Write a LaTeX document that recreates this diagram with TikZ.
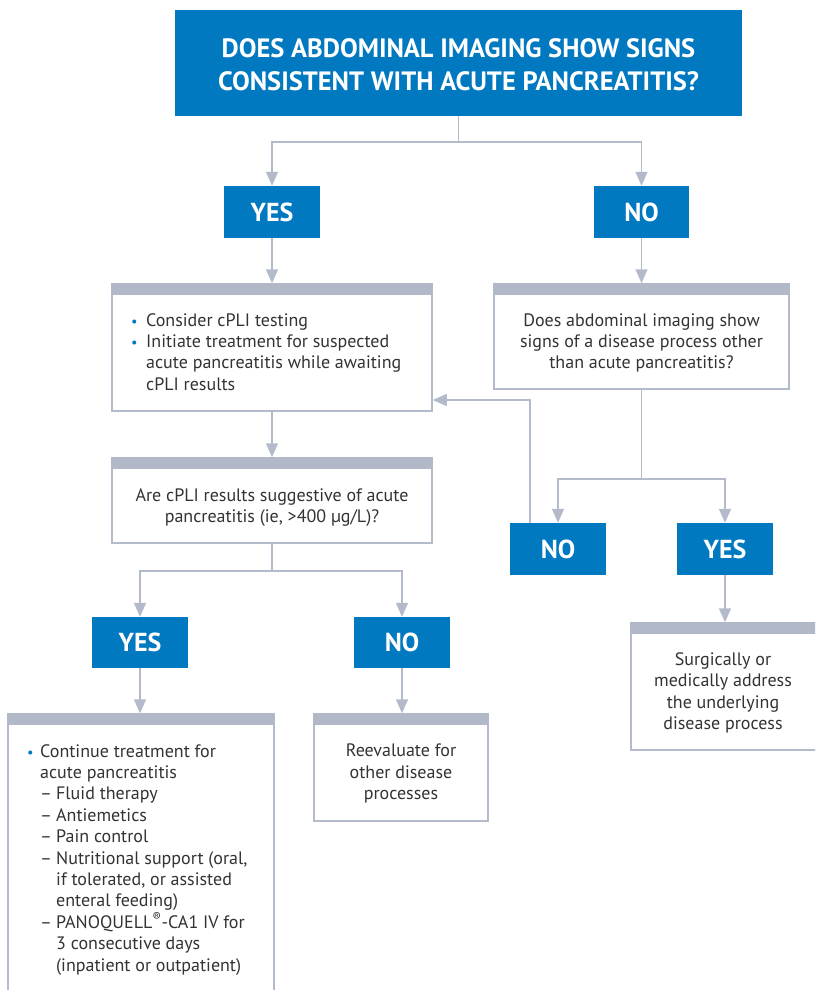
\documentclass[tikz,border=0pt]{standalone}
\usepackage{fontspec}
\setmainfont{PT Sans}
\usetikzlibrary{arrows.meta}
\definecolor{bl}{HTML}{0079C1}
\definecolor{ln}{HTML}{B3BBCB}
\definecolor{hd}{HTML}{B1B8C8}
\definecolor{tx}{HTML}{333333}
\newcommand\bul{\textcolor{bl}{\scalebox{0.8}{•}}}
\begin{document}
\begin{tikzpicture}[x=1pt,y=-1pt,
  bluebox/.style={fill=bl,text=white,font=\bfseries\fontsize{26}{30}\selectfont,inner sep=0,minimum width=96,minimum height=52},
  wbox/.style={draw=ln,line width=1.5pt,fill=white,inner sep=0},
  body/.style={text=tx,font=\fontsize{18}{21.4}\selectfont,inner sep=0},
  conn/.style={draw=ln,line width=1.5pt},
  arr/.style={conn,-{Triangle[width=12pt,length=14pt]}}]
\useasboundingbox (0,0) rectangle (815,990);
\clip (0,0) rectangle (815,990);
% top question
\node[bluebox,minimum width=567,minimum height=106] (top) at (458.5,63) {};
\node[text=white,inner sep=0,align=center,font=\bfseries\fontsize{26.5}{33}\selectfont] (topt) at (458.5,64.5)
  {DOES ABDOMINAL IMAGING SHOW SIGNS\\CONSISTENT WITH ACUTE PANCREATITIS?};
% first answers
\node[bluebox] (yes1) at (272,212) {YES};
\node[bluebox,minimum width=95] (no1) at (641.5,212) {NO};
% boxes
\node[wbox,minimum width=320,minimum height=127] (b1) at (272,347.5) {};
\node[wbox,minimum width=295,minimum height=105] (br) at (641.5,336.5) {};
\node[wbox,minimum width=320,minimum height=85] (b2) at (272,500.5) {};
\node[bluebox] (no2) at (558,549) {NO};
\node[bluebox] (yes2) at (725,549) {YES};
\node[bluebox,minimum height=51] (yes3) at (140,642.5) {YES};
\node[bluebox,minimum height=51] (no3) at (402,642.5) {NO};
\node[wbox,minimum width=266,minimum height=286] (b3) at (141,857) {};
\node[wbox,minimum width=174,minimum height=107] (b4) at (401,767.5) {};
\node[wbox,minimum width=189,minimum height=127] (b5) at (725.5,686.5) {};
% header bands
\foreach \b in {b1,br,b2,b3,b4,b5}{
  \fill[hd] (\b.north west) rectangle ([yshift=-12pt]\b.north east);
}
% texts
\node[body,anchor=north west,align=left] (t1) at (131,313)
  {\makebox[15pt][l]{\bul}Consider cPLI testing\\
   \makebox[15pt][l]{\bul}Initiate treatment for suspected\\
   \hspace*{15pt}acute pancreatitis while awaiting\\
   \hspace*{15pt}cPLI results};
\node[body,align=center] (tr) at (641.5,343)
  {Does abdominal imaging show\\signs of a disease process other\\than acute pancreatitis?};
\node[body,align=center] (t2) at (272,507.5)
  {Are cPLI results suggestive of acute\\pancreatitis (ie, >400 µg/L)?};
\node[body,align=center] (t4) at (401,773.5)
  {Reevaluate for\\other disease\\processes};
\node[body,align=center] (t5) at (723,693)
  {Surgically or\\medically address\\the underlying\\disease process};
\node[body,anchor=north west,align=left] (t3) at (27,744)
  {\makebox[13pt][l]{\bul}Continue treatment for\\
   \hspace*{13pt}acute pancreatitis\\
   \hspace*{13pt}\makebox[16pt][l]{–}Fluid therapy\\
   \hspace*{13pt}\makebox[16pt][l]{–}Antiemetics\\
   \hspace*{13pt}\makebox[16pt][l]{–}Pain control\\
   \hspace*{13pt}\makebox[16pt][l]{–}Nutritional support (oral,\\
   \hspace*{29pt}if tolerated, or assisted\\
   \hspace*{29pt}enteral feeding)\\
   \hspace*{13pt}\makebox[16pt][l]{–}PANOQUELL\textsuperscript{®}-CA1 IV for\\
   \hspace*{29pt}3 consecutive days\\
   \hspace*{29pt}(inpatient or outpatient)};
% connectors
\draw[arr] (top.south) -- ++(0,26) -| (yes1.north);
\draw[arr] (top.south) -- ++(0,26) -| (no1.north);
\draw[arr] (yes1.south) -- (b1.north);
\draw[arr] (no1.south) -- (br.north);
\draw[arr] (br.south) -- ++(0,89) -| (no2.north);
\draw[arr] (br.south) -- ++(0,89) -| (yes2.north);
\coordinate (fb) at (530,400);
\draw[arr] (no2.north -| fb) -- (fb) -- (b1.east |- fb);
\draw[arr] (b1.south) -- (b2.north);
\draw[arr] (b2.south) -- ++(0,27) -| (yes3.north);
\draw[arr] (b2.south) -- ++(0,27) -| (no3.north);
\draw[arr] (yes3.south) -- (yes3.south |- b3.north);
\draw[arr] (no3.south) -- (no3.south |- b4.north);
\draw[arr] (yes2.south) -- (yes2.south |- b5.north);
\end{tikzpicture}
\end{document}
